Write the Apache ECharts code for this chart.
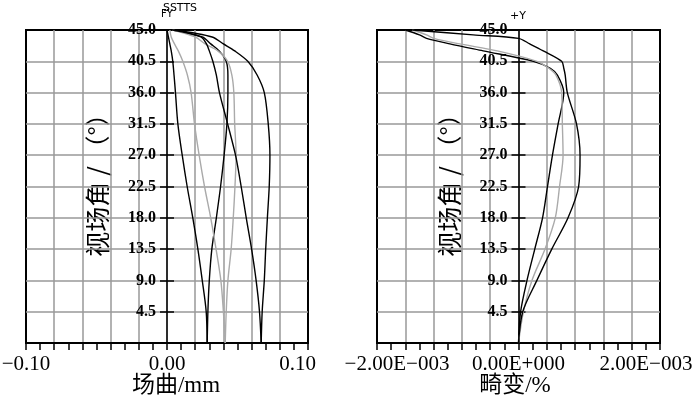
<!DOCTYPE html>
<html>
<head>
<meta charset="utf-8">
<title>场曲 / 畸变</title>
<script src="https://cdn.jsdelivr.net/npm/echarts@6/dist/echarts.min.js"></script>
<style>
  html, body { margin: 0; padding: 0; background: #fff; }
  #chart { width: 700px; height: 398px; }
</style>
</head>
<body>
<div id="chart"></div>
<script>
// 视场角 (纵轴)
var fieldAngle = [0, 4.5, 9, 13.5, 18, 22.5, 27, 31.5, 36, 38.5, 40.5, 42, 43, 44, 45];
// 场曲 mm，三个波长各 S / T 两条
var curveA1 = [0.0285, 0.0278, 0.025, 0.0219, 0.0183, 0.0143, 0.0108, 0.0077, 0.006, 0.005, 0.0041, 0.003, 0.002, 0.001, 0.0];
var curveA2 = [0.0285, 0.029, 0.030, 0.0318, 0.035, 0.038, 0.0405, 0.0425, 0.0432, 0.0432, 0.042, 0.037, 0.031, 0.025, 0.004];
var curveB1 = [0.0413, 0.040, 0.0382, 0.0348, 0.031, 0.0266, 0.0228, 0.0195, 0.0171, 0.0145, 0.0112, 0.008, 0.0053, 0.003, 0.002];
var curveB2 = [0.0413, 0.042, 0.0432, 0.0455, 0.047, 0.0482, 0.049, 0.048, 0.0474, 0.046, 0.043, 0.036, 0.027, 0.020, 0.004];
var curveC1 = [0.0668, 0.0656, 0.0632, 0.060, 0.0562, 0.0526, 0.0486, 0.043, 0.0372, 0.035, 0.0325, 0.030, 0.028, 0.024, 0.004];
var curveC2 = [0.0668, 0.0675, 0.069, 0.070, 0.0712, 0.0725, 0.073, 0.0718, 0.069, 0.064, 0.0573, 0.048, 0.040, 0.032, 0.006];

// 畸变 %
var distAngle = [0, 4.5, 9, 13.5, 18, 22.5, 27, 31.5, 36, 38.5, 39.5, 40.5, 42, 43, 43.8, 44.3, 45];
var distR1 = [0, 0.00003, 0.00012, 0.00023, 0.00034, 0.00041, 0.00048, 0.00056, 0.00064, 0.00055, 0.00045, 0.00021, -0.0005, -0.00097, -0.0013, -0.0014, -0.0016];
var distR2 = [0, 0.00007, 0.00019, 0.000375, 0.00052, 0.00058, 0.00063, 0.00062, 0.00061, 0.00053, 0.00043, 0.00026, -0.0003, -0.00083, -0.0012, -0.0013, -0.0015];
var distR3 = [0, 0.00006, 0.00026, 0.00047, 0.0007, 0.00085, 0.00087, 0.00082, 0.00069, 0.00066, 0.00064, 0.00061, 0.00035, 0.00016, 0, -0.00064, -0.0015];

var leftGrid = { left: 26, top: 30, width: 282, height: 313 };
var rightGrid = { left: 377, top: 30, width: 283, height: 313 };

var serif = '"Liberation Serif", "Times New Roman", "Noto Sans CJK SC", serif';
var gridGray = '#999';

function pairs(xs, ys) {
    return xs.map(function (x, i) { return [x, ys[i]]; });
}

function curve(xIdx, yIdx, xs, ys, color) {
    return {
        type: 'line',
        xAxisIndex: xIdx,
        yAxisIndex: yIdx,
        data: pairs(xs, ys),
        showSymbol: false,
        smooth: 0.3,
        lineStyle: { color: color, width: 1.4 },
        animation: false,
        z: 3
    };
}

// 横轴：主刻度 interval，次刻度一半
function xAxisOf(gridIndex, min, max, interval, formatter, rich) {
    return {
        type: 'value',
        gridIndex: gridIndex,
        min: min,
        max: max,
        interval: interval,
        axisLine: { show: true, onZero: false, lineStyle: { color: '#000', width: 2 } },
        axisTick: { show: true, length: 7, lineStyle: { color: '#000', width: 1.5 } },
        minorTick: { show: true, splitNumber: 2, length: 7, lineStyle: { color: '#000', width: 1.5 } },
        splitLine: { show: true, showMinLine: false, showMaxLine: false, lineStyle: { color: gridGray, width: 1.5 } },
        axisLabel: {
            show: true, margin: 11, color: '#000', fontFamily: serif, fontSize: 21,
            showMinLabel: true, showMaxLabel: true, hideOverlap: false,
            formatter: formatter, rich: rich
        }
    };
}

// 纵轴移到横轴零点（横轴范围对称，零点在正中），刻度穿过零线（左右各一个轴）
function yAxisOf(gridIndex, grid, withLabel) {
    return {
        type: 'value',
        gridIndex: gridIndex,
        position: withLabel ? 'left' : 'right',
        offset: -grid.width / 2,
        min: 0,
        max: 45,
        interval: 4.5,
        axisLine: { show: withLabel, onZero: false, lineStyle: { color: '#000', width: 1.5 } },
        axisTick: { show: true, length: 7, lineStyle: { color: '#000', width: 1.5 } },
        splitLine: { show: withLabel, showMinLine: false, showMaxLine: false, lineStyle: { color: gridGray, width: 1.5 } },
        axisLabel: {
            show: withLabel, margin: 11, color: '#000', fontFamily: serif, fontSize: 16, fontWeight: 'bold',
            formatter: function (v) { return v === 0 ? '' : v.toFixed(1); }
        }
    };
}

var chart = echarts.init(document.getElementById('chart'), null, { renderer: 'canvas' });

var gridStyle = { show: true, borderColor: '#000', borderWidth: 2, backgroundColor: 'transparent', containLabel: false, outerBoundsMode: 'none' };
var yTitle = '视场角 / （°）';

chart.setOption({
    backgroundColor: '#fff',
    animation: false,
    grid: [
        Object.assign({}, gridStyle, leftGrid),
        Object.assign({}, gridStyle, rightGrid)
    ],
    xAxis: [
        xAxisOf(0, -0.1, 0.1, 0.02, function (v) {
            var k = Math.round(v * 100);
            if (k === -10) return '−0.10';
            if (k === 0) return '0.00';
            if (k === 10) return '{r|0.10}';
            return '';
        }, { r: { fontFamily: serif, fontSize: 21, color: '#000', padding: [0, 21, 0, 0] } }),
        xAxisOf(1, -0.002, 0.002, 0.0004, function (v) {
            var k = Math.round(v * 10000);
            if (k === -20) return '{l|−2.00E−003}';
            if (k === 0) return '0.00E+000';
            if (k === 20) return '{r|2.00E−003}';
            return '';
        }, {
            l: { fontFamily: serif, fontSize: 21, color: '#000', padding: [0, 0, 0, 40] },
            r: { fontFamily: serif, fontSize: 21, color: '#000', padding: [0, 28, 0, 0] }
        })
    ],
    yAxis: [
        yAxisOf(0, leftGrid, true),
        yAxisOf(0, leftGrid, false),
        yAxisOf(1, rightGrid, true),
        yAxisOf(1, rightGrid, false)
    ],
    graphic: [
        { type: 'text', x: 97, y: 179, rotation: Math.PI / 2, silent: true,
          style: { text: yTitle, font: '25px "Noto Sans CJK SC"', fill: '#000', align: 'center', verticalAlign: 'middle' } },
        { type: 'text', x: 449, y: 179, rotation: Math.PI / 2, silent: true,
          style: { text: yTitle, font: '25px "Noto Sans CJK SC"', fill: '#000', align: 'center', verticalAlign: 'middle' } },
        { type: 'text', x: 176, y: 386, silent: true,
          style: { text: '场曲/mm', font: '23px ' + serif, fill: '#000', align: 'center', verticalAlign: 'middle' } },
        { type: 'text', x: 515, y: 386, silent: true,
          style: { text: '畸变/%', font: '23px ' + serif, fill: '#000', align: 'center', verticalAlign: 'middle' } },
        // 曲线标注
        { type: 'text', x: 180, y: 8, silent: true,
          style: { text: 'SSTTS', font: '11px "DejaVu Sans"', fill: '#000', align: 'center', verticalAlign: 'middle' } },
        { type: 'text', x: 167, y: 14, silent: true,
          style: { text: 'FY', font: '10px "DejaVu Sans"', fill: '#000', align: 'center', verticalAlign: 'middle' } },
        { type: 'text', x: 518, y: 16, silent: true,
          style: { text: '+Y', font: '11px "DejaVu Sans"', fill: '#000', align: 'center', verticalAlign: 'middle' } }
    ],
    series: [
        curve(0, 0, curveA1, fieldAngle, '#000'),
        curve(0, 0, curveA2, fieldAngle, '#000'),
        curve(0, 0, curveB1, fieldAngle, '#aaa'),
        curve(0, 0, curveB2, fieldAngle, '#aaa'),
        curve(0, 0, curveC1, fieldAngle, '#000'),
        curve(0, 0, curveC2, fieldAngle, '#000'),
        curve(1, 2, distR1, distAngle, '#000'),
        curve(1, 2, distR2, distAngle, '#aaa'),
        curve(1, 2, distR3, distAngle, '#000')
    ]
});
</script>
</body>
</html>
